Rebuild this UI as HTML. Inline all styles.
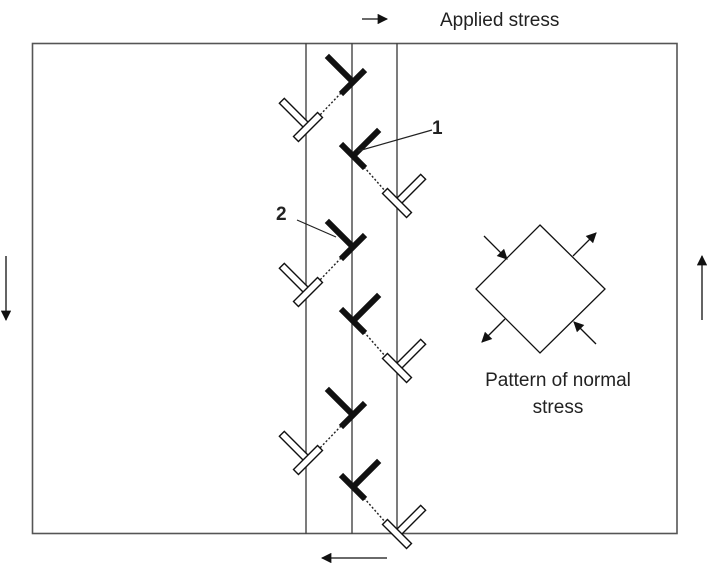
<!DOCTYPE html>
<html><head><meta charset="utf-8"><style>
html,body{margin:0;padding:0;background:#fff;}
svg{display:block;font-family:"Liberation Sans",Arial,sans-serif;}
</style></head><body>
<svg id="fig" width="708" height="564" viewBox="0 0 708 564">
<defs>
<marker id="ah" viewBox="0 0 10 10" refX="9" refY="5" markerWidth="9" markerHeight="8" orient="auto"><path d="M0,0 L10,5 L0,10 z" fill="#111"/></marker>
</defs>
<rect x="32.5" y="43.5" width="644.5" height="490" fill="none" stroke="#555" stroke-width="1.6"/>
<line x1="306" y1="43" x2="306" y2="534" stroke="#444" stroke-width="1.4"/>
<line x1="352" y1="43" x2="352" y2="534" stroke="#444" stroke-width="1.4"/>
<line x1="397" y1="43" x2="397" y2="534" stroke="#444" stroke-width="1.4"/>
<g id="dis"></g>
<g>
<text x="432" y="134" font-size="19" font-weight="bold" fill="#222">1</text>
<line x1="432" y1="130" x2="358" y2="151" stroke="#222" stroke-width="1.2"/>
</g>
<g>
<text x="276" y="220" font-size="19" font-weight="bold" fill="#222">2</text>
<line x1="297" y1="220" x2="336" y2="237" stroke="#222" stroke-width="1.2"/>
</g>
<line x1="362" y1="19" x2="387" y2="19" stroke="#111" stroke-width="1.3" marker-end="url(#ah)"/>
<text x="440" y="26" font-size="19" fill="#222">Applied stress</text>
<line x1="387" y1="558" x2="322" y2="558" stroke="#111" stroke-width="1.3" marker-end="url(#ah)"/>
<line x1="6" y1="256" x2="6" y2="320" stroke="#111" stroke-width="1.3" marker-end="url(#ah)"/>
<line x1="702" y1="320" x2="702" y2="256" stroke="#111" stroke-width="1.3" marker-end="url(#ah)"/>
<polygon points="540,225 605,289 540,353 476,289" fill="none" stroke="#111" stroke-width="1.3"/>
<line x1="484" y1="236" x2="507" y2="259" stroke="#111" stroke-width="1.3" marker-end="url(#ah)"/>
<line x1="596" y1="344" x2="574" y2="322" stroke="#111" stroke-width="1.3" marker-end="url(#ah)"/>
<line x1="573" y1="256" x2="596" y2="233" stroke="#111" stroke-width="1.3" marker-end="url(#ah)"/>
<line x1="505" y1="319" x2="482" y2="342" stroke="#111" stroke-width="1.3" marker-end="url(#ah)"/>
<text x="558" y="386" font-size="19" fill="#222" text-anchor="middle">Pattern of normal</text>
<text x="558" y="413" font-size="19" fill="#222" text-anchor="middle">stress</text>
</svg>
<script>
var typeAY=[82,247,415];
var typeBY=[156,321,487];
var NS='http://www.w3.org/2000/svg';
var g=document.getElementById('dis');
function sym(cx,cy,rot,black){
  var s=document.createElementNS(NS,'g');
  s.setAttribute('transform','translate('+cx+','+cy+') rotate('+rot+')');
  
  
  var st=black?'fill="#111"':'fill="#fff" stroke="#111" stroke-width="1.4"';
  var w=black?6:7;
  s.innerHTML='<rect x="'+(-w/2)+'" y="-37" width="'+w+'" height="37" '+st+'/><rect x="-17" y="'+(-w/2)+'" width="34" height="'+w+'" '+st+'/>';
  g.appendChild(s);
}
function dots(x1,y1,x2,y2){
  var l=document.createElementNS(NS,'line');
  l.setAttribute('x1',x1);l.setAttribute('y1',y1);l.setAttribute('x2',x2);l.setAttribute('y2',y2);
  l.setAttribute('stroke','#222');l.setAttribute('stroke-width','1.4');l.setAttribute('stroke-dasharray','2 2');
  
  
  g.appendChild(l);
}
typeAY.forEach(function(y){
  dots(352-11,y+11,308+11,y+45-11);
  sym(308,y+45,-45,false);
  sym(353,y,-45,true);
});
typeBY.forEach(function(y){
  dots(353+11,y+11,397-11,y+47-11);
  sym(397,y+47,45,false);
  sym(353,y,45,true);
});
</script>
</body></html>
